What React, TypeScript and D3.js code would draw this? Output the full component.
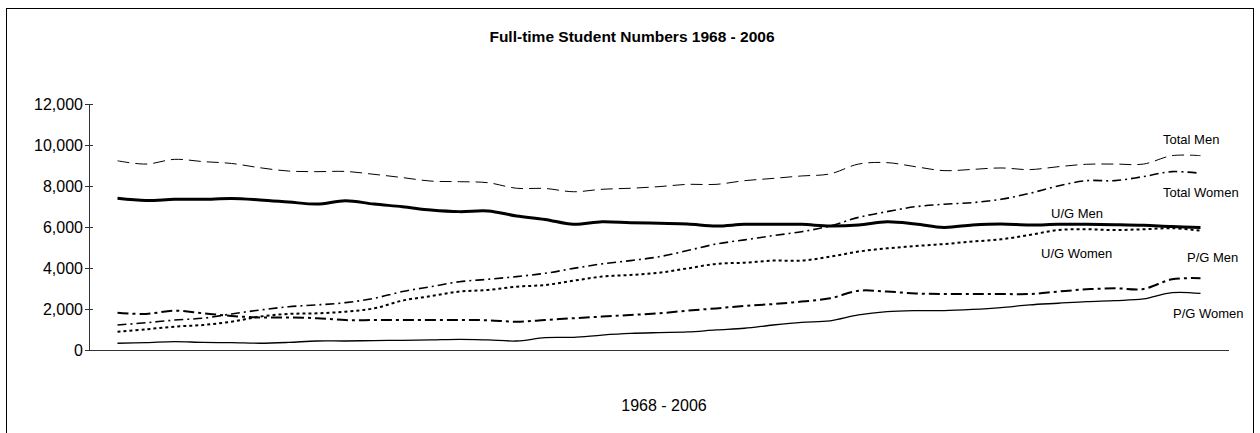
import { useEffect, useRef } from "react";
import * as d3 from "d3";

const years = [
  1968, 1969, 1970, 1971, 1972, 1973, 1974, 1975, 1976, 1977, 1978, 1979, 1980,
  1981, 1982, 1983, 1984, 1985, 1986, 1987, 1988, 1989, 1990, 1991, 1992, 1993,
  1994, 1995, 1996, 1997, 1998, 1999, 2000, 2001, 2002, 2003, 2004, 2005, 2006,
];

const totalMen = [
  9230, 9070, 9300, 9190, 9100, 8890, 8730, 8700, 8710, 8570, 8410, 8240, 8210,
  8160, 7890, 7880, 7720, 7840, 7890, 7970, 8080, 8080, 8260, 8370, 8490, 8590,
  9070, 9140, 8940, 8750, 8810, 8880, 8800, 8940, 9060, 9070, 9070, 9480, 9480,
];
const totalWomen = [
  1220, 1330, 1460, 1550, 1760, 1950, 2110, 2200, 2310, 2520, 2850, 3090, 3330,
  3450, 3580, 3740, 3980, 4200, 4360, 4550, 4850, 5170, 5370, 5580, 5770, 6050,
  6470, 6750, 6990, 7110, 7190, 7350, 7640, 8000, 8260, 8260, 8460, 8700, 8620,
];
const ugMen = [
  7400, 7290, 7350, 7350, 7390, 7320, 7220, 7120, 7280, 7120, 6990, 6830, 6750,
  6780, 6540, 6370, 6130, 6260, 6210, 6180, 6150, 6050, 6130, 6130, 6130, 6050,
  6100, 6260, 6150, 5980, 6100, 6150, 6100, 6130, 6130, 6110, 6080, 6020, 5980,
];
const ugWomen = [
  890, 1010, 1140, 1220, 1380, 1630, 1760, 1790, 1870, 2030, 2410, 2630, 2850,
  2930, 3090, 3170, 3380, 3580, 3660, 3770, 3980, 4200, 4260, 4360, 4360, 4550,
  4800, 4960, 5070, 5170, 5290, 5400, 5610, 5850, 5890, 5850, 5890, 5940, 5820,
];
const pgMen = [
  1820, 1760, 1920, 1790, 1660, 1590, 1590, 1550, 1460, 1460, 1460, 1460, 1460,
  1450, 1380, 1460, 1550, 1630, 1710, 1790, 1920, 2030, 2150, 2240, 2360, 2520,
  2890, 2850, 2760, 2730, 2730, 2730, 2730, 2850, 2960, 3010, 2980, 3450, 3500,
];
const pgWomen = [
  330, 360, 410, 370, 360, 330, 370, 440, 440, 460, 470, 490, 520,
  490, 440, 600, 620, 730, 810, 850, 880, 980, 1060, 1220, 1350, 1420,
  1710, 1870, 1920, 1920, 1980, 2070, 2200, 2280, 2360, 2410, 2490, 2800, 2760,
];

const yTicks = [0, 2000, 4000, 6000, 8000, 10000, 12000];

const seriesNames = ["Total Men", "Total Women", "U/G Men", "U/G Women", "P/G Men", "P/G Women"];
const seriesValues = [totalMen, totalWomen, ugMen, ugWomen, pgMen, pgWomen];
const seriesDash = ["12,6", "9,4,2,4", "", "3,3", "11,4,3,4", ""];
const seriesWidth = [1, 1.6, 3, 2, 2, 1.3];
// label anchors (left x, middle y) in page pixels
const labelPos = [
  [1163, 139],
  [1163, 192],
  [1051, 213],
  [1041, 253],
  [1187, 257],
  [1173, 313],
];

export default function App() {
  const svgRef = useRef<SVGSVGElement | null>(null);
  const width = 1260;
  const height = 433;
  const font = "Arial, 'Liberation Sans', sans-serif";

  useEffect(() => {
    const svg = d3.select(svgRef.current);
    svg.selectAll("*").remove();

    const left = 89;
    const right = 1229;
    const top = 104;
    const bottom = 350;

    const x = d3
      .scalePoint<number>()
      .domain(years)
      .range([left, right])
      .padding(1);
    const y = d3.scaleLinear().domain([0, 12000]).range([bottom, top]);

    // outer frame
    svg
      .append("rect")
      .attr("x", 6.5)
      .attr("y", 8.5)
      .attr("width", 1247)
      .attr("height", 440)
      .attr("fill", "white")
      .attr("stroke", "black")
      .attr("stroke-width", 1);

    svg
      .append("text")
      .attr("x", 632)
      .attr("y", 42)
      .attr("text-anchor", "middle")
      .attr("font-family", font)
      .attr("font-weight", "bold")
      .attr("font-size", 15.5)
      .text("Full-time Student Numbers 1968 - 2006");

    // y axis
    const yAxis = svg.append("g");
    yAxis
      .append("line")
      .attr("x1", left + 0.5)
      .attr("x2", left + 0.5)
      .attr("y1", top)
      .attr("y2", bottom)
      .attr("stroke", "#333");
    yTicks.forEach((t) => {
      yAxis
        .append("line")
        .attr("x1", left - 4)
        .attr("x2", left + 4)
        .attr("y1", Math.round(y(t)) + 0.5)
        .attr("y2", Math.round(y(t)) + 0.5)
        .attr("stroke", "#333");
      yAxis
        .append("text")
        .attr("x", left - 6)
        .attr("y", y(t))
        .attr("dy", "0.35em")
        .attr("text-anchor", "end")
        .attr("font-family", font)
        .attr("font-size", 16)
        .text(d3.format(",")(t));
    });

    // x axis
    svg
      .append("line")
      .attr("x1", left)
      .attr("x2", right)
      .attr("y1", bottom + 0.5)
      .attr("y2", bottom + 0.5)
      .attr("stroke", "#333");

    svg
      .append("text")
      .attr("x", 664)
      .attr("y", 411)
      .attr("text-anchor", "middle")
      .attr("font-family", font)
      .attr("font-size", 16)
      .text("1968 - 2006");

    const line = d3
      .line<number>()
      .x((_, i) => x(years[i])!)
      .y((d) => y(d))
      .curve(d3.curveCatmullRom.alpha(0.5));

    seriesValues.forEach((vals, k) => {
      svg
        .append("path")
        .datum(vals)
        .attr("d", line)
        .attr("fill", "none")
        .attr("stroke", "black")
        .attr("stroke-width", seriesWidth[k])
        .attr("stroke-dasharray", seriesDash[k] || null);

      svg
        .append("text")
        .attr("x", labelPos[k][0])
        .attr("y", labelPos[k][1])
        .attr("dy", "0.35em")
        .attr("font-family", font)
        .attr("font-size", 13)
        .text(seriesNames[k]);
    });
  }, []);

  return (
    <svg
      ref={svgRef}
      width={width}
      height={height}
      style={{ position: "absolute", left: 0, top: 0, background: "white" }}
    />
  );
}
